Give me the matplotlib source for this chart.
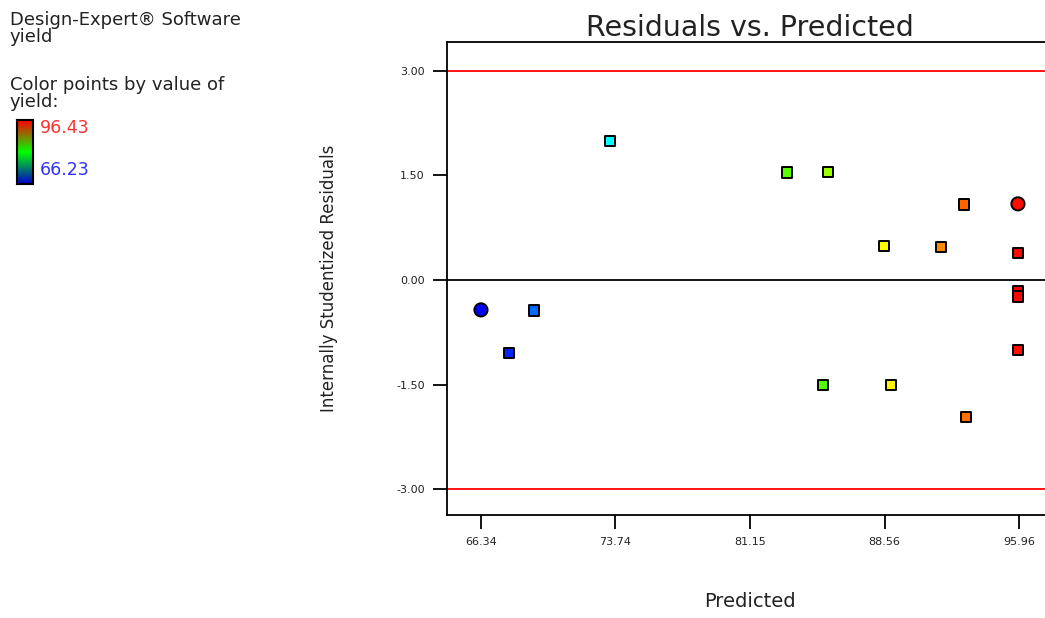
# residuals vs predicted plot for the yield model, points coloured by yield

import matplotlib.pyplot as plt
import numpy as np
from matplotlib.colors import LinearSegmentedColormap, Normalize

predicted = [66.34, 67.88, 69.26, 73.44, 83.19, 85.45, 85.17, 88.53, 88.92,
             91.65, 92.94, 93.05, 95.90, 95.90, 95.90, 95.90, 95.90]
residuals = [-0.43, -1.05, -0.44, 1.99, 1.54, 1.55, -1.51, 0.49, -1.51,
             0.47, 1.08, -1.97, 1.09, 0.39, -0.16, -0.24, -1.00]
yield_obs = [66.23, 67.4, 69.5, 73.8, 84.0, 85.9, 83.7, 88.9, 89.2,
             92.2, 93.4, 93.1, 96.0, 96.1, 96.43, 96.2, 95.9]
runs = [2, 1, 1, 1, 1, 1, 1, 1, 1, 1, 1, 1, 2, 1, 1, 1, 1]

x_ticks = [66.34, 73.74, 81.15, 88.56, 95.96]
x_tick_labels = ["66.34", "73.74", "81.15", "88.56", "95.96"]
y_ticks = [-3.0, -1.5, 0.0, 1.5, 3.0]
limit = 3.0
yield_min, yield_max = 66.23, 96.43

point_cmap = LinearSegmentedColormap.from_list(
    "pts", ["#0000ff", "#00ffff", "#00ff00", "#ffff00", "#ff0000"])
bar_cmap = LinearSegmentedColormap.from_list(
    "bar", ["#0000cc", "#00ff00", "#ff0000"])
norm = Normalize(yield_min, yield_max)

plt.rcParams['font.family'] = ['DejaVu Sans']

fig = plt.figure(figsize=(10.45, 6.18), dpi=100)
ax = fig.add_axes([447 / 1045, 1 - 515 / 618, 606 / 1045, 473 / 618])

ax.axhline(limit, color='red', lw=1.3)
ax.axhline(-limit, color='red', lw=1.3)
ax.axhline(0, color='black', lw=1.3)

pred = np.array(predicted)
res = np.array(residuals)
cols = point_cmap(norm(np.array(yield_obs)))
single = np.array(runs) == 1
ax.scatter(pred[single], res[single], marker='s', s=55, c=cols[single],
           edgecolors='black', linewidths=1.4, zorder=3)
ax.scatter(pred[~single], res[~single], marker='o', s=90, c=cols[~single],
           edgecolors='black', linewidths=1.4, zorder=3)

ax.set_xlim(64.47, 97.83)
ax.set_ylim(-3.37, 3.41)
ax.set_xticks(x_ticks)
ax.set_xticklabels(x_tick_labels)
ax.set_yticks(y_ticks)
ax.set_yticklabels([f"{v:.2f}" for v in y_ticks])
ax.tick_params(direction='out', length=10, width=1.3, labelsize=8,
               labelcolor='#222222', pad=6)
for sp in ax.spines.values():
    sp.set_linewidth(1.3)

ax.set_title("Residuals vs. Predicted", fontsize=20.5, pad=1, color='#222222')
ax.set_xlabel("Predicted", fontsize=14, labelpad=32, color='#222222')
ax.set_ylabel("Internally Studentized Residuals", fontsize=12, labelpad=42,
              color='#222222')

# side notes and colour key
fig.text(10 / 1045, 1 - 11 / 618, "Design-Expert\u00ae Software\nyield",
         fontsize=13, va='top', linespacing=0.95, color='#222222')
fig.text(10 / 1045, 1 - 76 / 618, "Color points by value of\nyield:",
         fontsize=13, va='top', linespacing=0.95, color='#222222')
cax = fig.add_axes([17 / 1045, 1 - 184 / 618, 16 / 1045, 64 / 618])
grad = np.linspace(0, 1, 100).reshape(-1, 1)
cax.imshow(grad, cmap=bar_cmap, aspect='auto', origin='lower')
cax.set_xticks([])
cax.set_yticks([])
for sp in cax.spines.values():
    sp.set_linewidth(1.5)
fig.text(40 / 1045, 1 - 128 / 618, f"{yield_max:.2f}", color='#ff3030',
         fontsize=12.5, va='center')
fig.text(40 / 1045, 1 - 170 / 618, f"{yield_min:.2f}", color='#3030ff',
         fontsize=12.5, va='center')

fig.savefig("out.png", dpi=100)
